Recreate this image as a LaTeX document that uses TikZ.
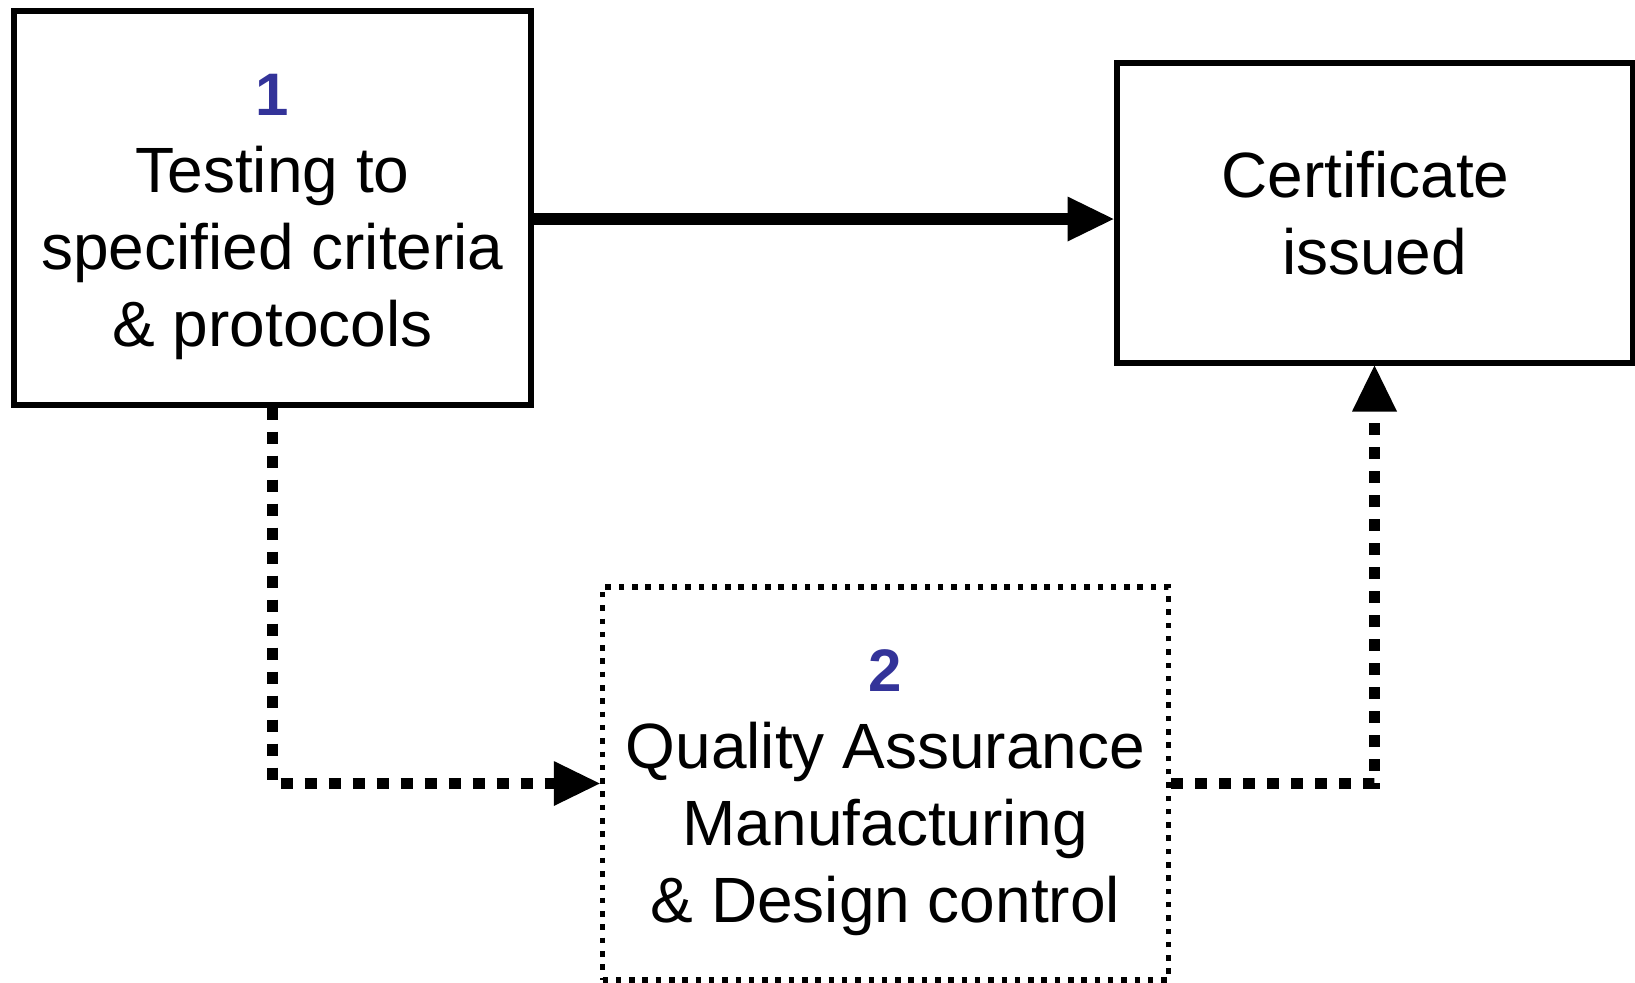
\documentclass[tikz,border=0pt]{standalone}
\usepackage{fontspec}
\setmainfont{Liberation Sans}
\usetikzlibrary{arrows.meta}
\definecolor{qanavy}{HTML}{333399}
\newcommand{\stepnum}[1]{{\color{qanavy}\bfseries\fontsize{30}{38.5}\selectfont\rule{0pt}{30pt}#1}}

\begin{document}
\begin{tikzpicture}[
      x=0.5pt, y=-0.5pt,
      font=\fontsize{32}{38.5}\selectfont,
      box/.style={draw, line width=3pt, inner sep=0pt, align=center},
      qbox/.style={draw, line width=2.75pt, dash pattern=on 2.75pt off 3.9pt,
                   inner sep=0pt, align=center},
      ar/.style={-{Triangle[length=23pt,width=22.5pt,line width=0pt]}, line width=5.85pt},
      dar/.style={ar, dash pattern=on 6pt off 6pt},
    ]
    \useasboundingbox (0,0) rectangle (1635,982);

    \node[box, minimum width=258.5pt, minimum height=196.85pt] (a) at (272.5,207.85)
      {\stepnum{1}\\Testing to\hspace*{.28em}\\specified criteria\\\& protocols};
    \node[box, minimum width=258pt, minimum height=149.75pt] (c) at (1374.5,212.75)
      {Certificate\hspace*{.28em}\\issued};
    \node[qbox, minimum width=282.9pt, minimum height=196.5pt] (q) at (885.4,783.5)
      {\stepnum{2}\\Quality Assurance\\Manufacturing\\\& Design control};

    \coordinate (m) at (0,219);
    \draw[ar] (a.east |- m) -- (c.west |- m);
    \draw[dar] (a.south) |- (q.west);
    \draw[dar] (q.east) -| (c.south);
  \end{tikzpicture}
\end{document}
